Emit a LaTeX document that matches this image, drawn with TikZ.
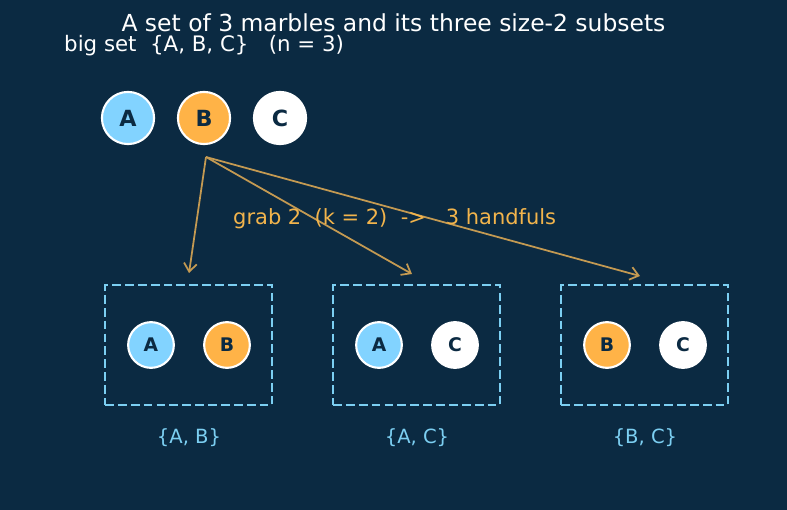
\documentclass[tikz,border=0pt]{standalone}
\usepackage{fontspec}
\setmainfont{DejaVu Sans}
\usetikzlibrary{arrows.meta,positioning}
\definecolor{bg}{HTML}{0B2A42}
\definecolor{skyA}{HTML}{82D3FF}
\definecolor{orangeB}{HTML}{FFB347}
\definecolor{ink}{HTML}{0B2A42}
\definecolor{boxline}{HTML}{7CCFF2}
\definecolor{fanline}{HTML}{C49A52}
\definecolor{grabtext}{HTML}{F2B44C}
\tikzset{
  marble/.style={circle, draw=white, line width=1.8pt, minimum size=#1, inner sep=0pt, text=ink},
  bigmarble/.style={marble=44.5pt, font=\bfseries\fontsize{19}{20}\selectfont},
  smallmarble/.style={marble=39pt, font=\bfseries\fontsize{16}{17}\selectfont},
  handful/.style={draw=boxline, dash pattern=on 7.5pt off 3.5pt, line width=2.2pt, minimum width=142.5pt, minimum height=102.5pt, inner sep=0pt},
  fan/.style={draw=fanline, line width=1.5pt, -{Straight Barb[length=7pt, width=11pt]}}
}
\begin{document}
\begin{tikzpicture}[x=0.03cm, y=-0.03cm]
\fill[bg] (0,0) rectangle (787,510);
\node[white, inner sep=0pt, font=\fontsize{20}{22}\selectfont] (title) at (393.5,22.5) {A set of 3 marbles and its three size-2 subsets};
\node[white, anchor=west, inner sep=0pt, font=\fontsize{18.2}{20}\selectfont] (bigset) at (64,45.5) {big set\ \ \{A, B, C\}\ \ \ (n = 3)};
% the whole set
\node[bigmarble, fill=skyA] (A) at (128,118) {A};
\node[bigmarble, fill=orangeB] (B) at (204,118) {B};
\node[bigmarble, fill=white] (C) at (280,118) {C};
% three handfuls
\node[handful] (ab) at (188.5,345) {};
\node[handful] (ac) at (416.5,345) {};
\node[handful] (bc) at (644.5,345) {};
\node[smallmarble, fill=skyA] (abA) at (151,345) {A};
\node[smallmarble, fill=orangeB] (abB) at (227,345) {B};
\node[smallmarble, fill=skyA] (acA) at (379,345) {A};
\node[smallmarble, fill=white] (acC) at (455,345) {C};
\node[smallmarble, fill=orangeB] (bcB) at (607,345) {B};
\node[smallmarble, fill=white] (bcC) at (683,345) {C};
\node[boxline, font=\fontsize{16.7}{18}\selectfont] (abl) at (189,438) {\{A, B\}};
\node[boxline, font=\fontsize{16.7}{18}\selectfont] (acl) at (417,438) {\{A, C\}};
\node[boxline, font=\fontsize{16.7}{18}\selectfont] (bcl) at (645,438) {\{B, C\}};
% arrows
\coordinate (fork) at (206,157);
\coordinate (toab) at (189,273);
\coordinate (toac) at (412,274);
\coordinate (tobc) at (640,276);
\draw[fan] (fork) -- (toab);
\draw[fan] (fork) -- (toac);
\draw[fan] (fork) -- (tobc);
\node[grabtext, anchor=west, inner sep=0pt, font=\fontsize{17.9}{20}\selectfont] (grab) at (233,218.5) {grab 2\ \ (k = 2)\ \ ->\ \ \ 3 handfuls};
\end{tikzpicture}
\end{document}
